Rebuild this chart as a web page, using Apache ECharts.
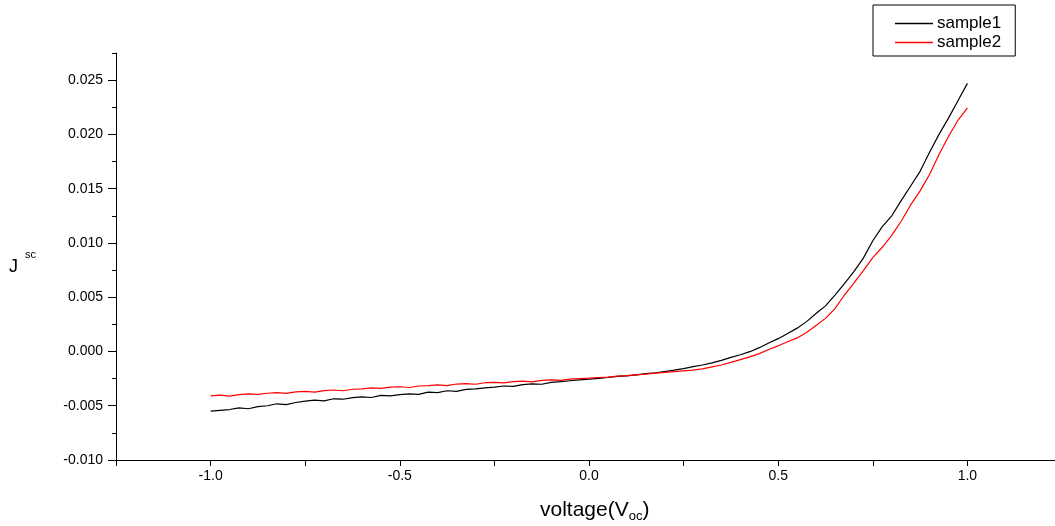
<!DOCTYPE html>
<html>
<head>
<meta charset="utf-8">
<script src="https://cdn.jsdelivr.net/npm/echarts@6/dist/echarts.min.js"></script>
<style>
html,body{margin:0;padding:0;background:#fff;}
#chart{width:1055px;height:526px;}
</style>
</head>
<body>
<div id="chart"></div>
<script>
const voltage = [
 -1.000,-0.975,-0.950,-0.925,-0.900,-0.875,-0.850,-0.825,-0.800,-0.775,
 -0.750,-0.725,-0.700,-0.675,-0.650,-0.625,-0.600,-0.575,-0.550,-0.525,
 -0.500,-0.475,-0.450,-0.425,-0.400,-0.375,-0.350,-0.325,-0.300,-0.275,
 -0.250,-0.225,-0.200,-0.175,-0.150,-0.125,-0.100,-0.075,-0.050,-0.025,
  0.000, 0.025, 0.050, 0.075, 0.100, 0.125, 0.150, 0.175, 0.200, 0.225,
  0.250, 0.275, 0.300, 0.325, 0.350, 0.375, 0.400, 0.425, 0.450, 0.475,
  0.500, 0.525, 0.550, 0.575, 0.600, 0.625, 0.650, 0.675, 0.700, 0.725,
  0.750, 0.775, 0.800, 0.825, 0.850, 0.875, 0.900, 0.925, 0.950, 0.975,
  1.000
];
const sample1 = [
 -0.00550,-0.00542,-0.00535,-0.00520,-0.00528,-0.00508,-0.00500,-0.00482,-0.00490,-0.00470,
 -0.00458,-0.00448,-0.00455,-0.00436,-0.00440,-0.00425,-0.00418,-0.00424,-0.00405,-0.00410,
 -0.00398,-0.00390,-0.00395,-0.00375,-0.00380,-0.00362,-0.00368,-0.00350,-0.00345,-0.00335,
 -0.00328,-0.00318,-0.00322,-0.00305,-0.00298,-0.00302,-0.00285,-0.00278,-0.00270,-0.00262,
 -0.00255,-0.00248,-0.00240,-0.00230,-0.00225,-0.00215,-0.00205,-0.00198,-0.00185,-0.00172,
 -0.00158,-0.00140,-0.00125,-0.00105,-0.00082,-0.00055,-0.00030,-0.00002, 0.00035, 0.00078,
  0.00118, 0.00165, 0.00215, 0.00275, 0.00350, 0.00420, 0.00520, 0.00625, 0.00735, 0.00860,
  0.01020, 0.01150, 0.01250, 0.01390, 0.01525, 0.01660, 0.01835, 0.02000, 0.02150, 0.02310,
  0.02470
];
const sample2 = [
 -0.00410,-0.00402,-0.00412,-0.00398,-0.00390,-0.00396,-0.00385,-0.00380,-0.00386,-0.00372,
 -0.00368,-0.00375,-0.00360,-0.00355,-0.00362,-0.00348,-0.00345,-0.00335,-0.00340,-0.00328,
 -0.00325,-0.00332,-0.00318,-0.00315,-0.00308,-0.00314,-0.00300,-0.00296,-0.00302,-0.00288,
 -0.00285,-0.00290,-0.00278,-0.00274,-0.00280,-0.00266,-0.00262,-0.00266,-0.00255,-0.00250,
 -0.00246,-0.00240,-0.00236,-0.00228,-0.00222,-0.00215,-0.00208,-0.00200,-0.00192,-0.00185,
 -0.00178,-0.00172,-0.00160,-0.00142,-0.00125,-0.00100,-0.00075,-0.00050,-0.00020, 0.00018,
  0.00052, 0.00090, 0.00125, 0.00175, 0.00240, 0.00305, 0.00395, 0.00520, 0.00630, 0.00745,
  0.00865, 0.00960, 0.01070, 0.01200, 0.01350, 0.01480, 0.01630, 0.01815, 0.01980, 0.02130,
  0.02245
];
const seriesNames = ['sample1', 'sample2'];
const seriesColors = ['#000000', '#ff0000'];
const yLabelValues = [-0.010,-0.005,0.000,0.005,0.010,0.015,0.020,0.025];
const xLabelValues = [-1.0,-0.5,0.0,0.5,1.0];

const FONT = '"Liberation Sans", Arial, sans-serif';
const chart = echarts.init(document.getElementById('chart'), null, {renderer: 'canvas'});
function pairs(xs, ys){ return xs.map((x,i)=>[x, ys[i]]); }

chart.setOption({
  animation: false,
  backgroundColor: '#ffffff',
  grid: {left: 116, right: 0, top: 53, bottom: 66, containLabel: false},
  legend: {
    orient: 'vertical',
    left: 873, top: 5,
    padding: [10, 14, 5, 22],
    itemGap: 2,
    itemWidth: 38, itemHeight: 1.5,
    icon: 'rect',
    borderColor: '#000', borderWidth: 1,
    textStyle: {fontFamily: FONT, fontSize: 17, color: '#000', padding: [0,0,0,-1]},
    data: seriesNames
  },
  xAxis: {
    type: 'value',
    min: -1.25, max: 1.2315, interval: 0.25,
    axisLine: {show: true, onZero: false, lineStyle: {color: '#000', width: 1}},
    axisTick: {show: true, inside: false, length: 6, lineStyle: {color: '#000'}},
    axisLabel: {
      show: true, margin: 9, color: '#000', fontFamily: FONT, fontSize: 14,
      showMaxLabel: false,
      formatter: function(v){
        for (const t of xLabelValues) if (Math.abs(v - t) < 1e-9) return t.toFixed(1);
        return '';
      }
    },
    splitLine: {show: false}
  },
  yAxis: [{
    type: 'value',
    min: -0.010, max: 0.0275, interval: 0.005,
    axisLine: {show: true, onZero: false, lineStyle: {color: '#000', width: 1}},
    axisTick: {show: true, inside: false, length: 8, lineStyle: {color: '#000'}, customValues: yLabelValues},
    axisLabel: {
      show: true, margin: 13, color: '#000', fontFamily: FONT, fontSize: 14,
      customValues: yLabelValues,
      formatter: function(v){
        if (Math.abs(v) < 1e-9) return '0.000';
        return v.toFixed(3);
      }
    },
    splitLine: {show: false}
  }, {
    type: 'value',
    position: 'left',
    min: -0.010, max: 0.0275, interval: 0.0025,
    axisLine: {show: false, onZero: false},
    axisTick: {show: true, inside: false, length: 4, lineStyle: {color: '#000'}},
    axisLabel: {show: false},
    splitLine: {show: false}
  }],
  graphic: [
    {type: 'text', left: 9, top: 258, style: {text: 'J', font: '18px ' + FONT, fill: '#000'}},
    {type: 'text', left: 25, top: 249, style: {text: 'sc', font: '11px ' + FONT, fill: '#000'}},
    {type: 'text', left: 540, top: 497, style: {
      text: 'voltage(V{s|oc})', font: '21px ' + FONT, fill: '#000',
      lineHeight: 26, verticalAlign: 'top',
      rich: {s: {fontSize: 13, fontFamily: FONT, lineHeight: 13, verticalAlign: 'bottom', fill: '#000'}}
    }}
  ],
  series: [
    {name: seriesNames[0], type: 'line', data: pairs(voltage, sample1), showSymbol: false, symbol: 'none',
     lineStyle: {color: seriesColors[0], width: 1.2}, itemStyle: {color: seriesColors[0]}},
    {name: seriesNames[1], type: 'line', data: pairs(voltage, sample2), showSymbol: false, symbol: 'none',
     lineStyle: {color: seriesColors[1], width: 1.2}, itemStyle: {color: seriesColors[1]}}
  ]
});
</script>
</body>
</html>
